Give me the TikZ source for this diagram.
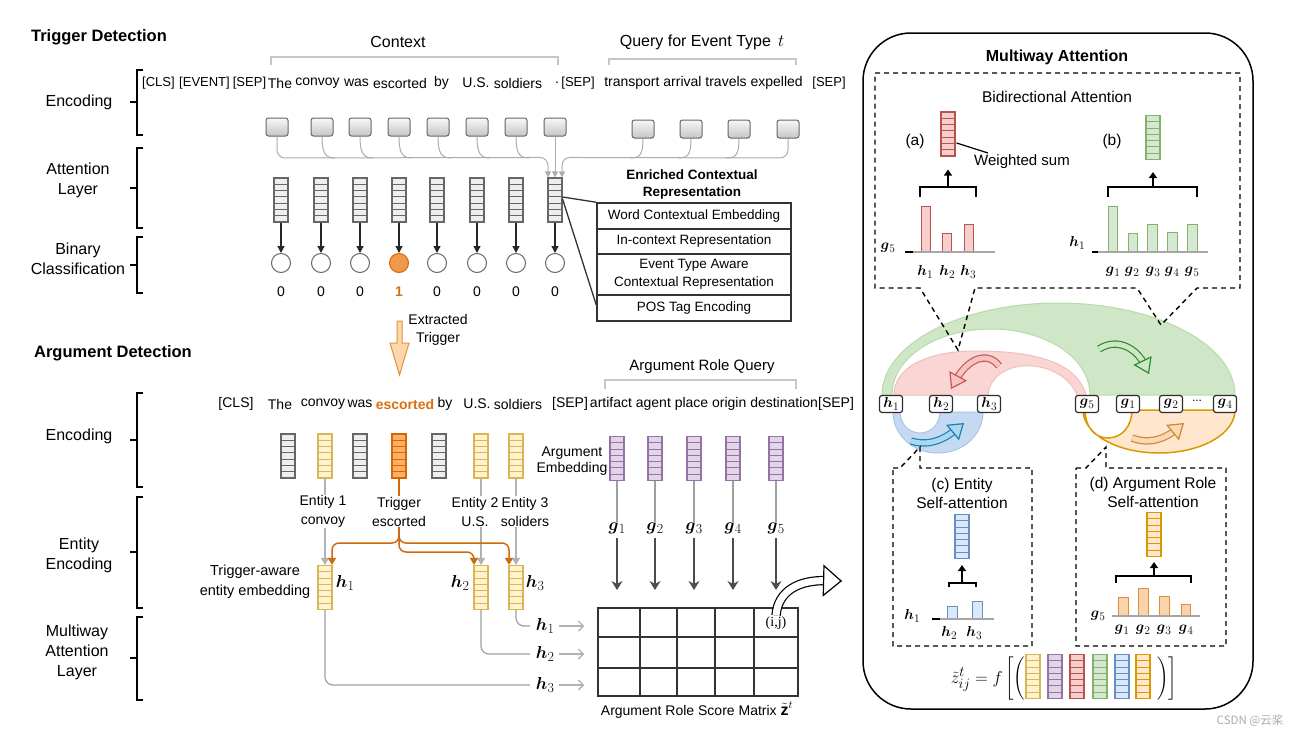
\documentclass[tikz,border=0pt]{standalone}
\usepackage{amsmath}
\usepackage{graphicx}
\usepackage{fontspec}
\setmainfont{Liberation Sans}
\newfontfamily\serifrm{Liberation Serif}
\newfontfamily\cjkfont{Noto Sans CJK SC}
\usetikzlibrary{arrows.meta,calc}
\newcommand{\bvx}[2]{$\boldsymbol{#1}$\kern0.2pt\raisebox{-0.22em}{\scalebox{0.8}{$#2$}}}

\definecolor{cGrayF}{HTML}{EEEEEE}
\definecolor{cGrayD}{HTML}{666666}
\definecolor{cYelF}{HTML}{FFF2CC}
\definecolor{cYelD}{HTML}{D6B656}
\definecolor{cTrgF}{HTML}{FFAE62}
\definecolor{cTrgD}{HTML}{D0680C}
\definecolor{cPurF}{HTML}{E1D5E7}
\definecolor{cPurD}{HTML}{9673A6}
\definecolor{cRedF}{HTML}{F8CECC}
\definecolor{cRedD}{HTML}{B85450}
\definecolor{cGrnF}{HTML}{D5E8D4}
\definecolor{cGrnD}{HTML}{82B366}
\definecolor{cBluF}{HTML}{DAE8FC}
\definecolor{cBluD}{HTML}{6C8EBF}
\definecolor{cOrgF}{HTML}{FFE6CC}
\definecolor{cOrgD}{HTML}{D79B00}
\definecolor{cOrgBarF}{HTML}{FCD3A8}
\definecolor{cOrgBarD}{HTML}{D98E45}
\definecolor{cOrange}{HTML}{D9700F}
\definecolor{cExtF}{HTML}{FDD7AC}
\definecolor{cExtD}{HTML}{E3913A}
\definecolor{rbGrn}{HTML}{CFE7C6}
\definecolor{rbGrnD}{HTML}{B7DBA9}
\definecolor{rbRed}{HTML}{F9D5D3}
\definecolor{rbRedD}{HTML}{F3BFBC}
\definecolor{rbBlu}{HTML}{C6D9F2}
\definecolor{rbBluD}{HTML}{A9C4EB}
\definecolor{arRedD}{HTML}{C55A55}
\definecolor{arRedF}{HTML}{F5C3C0}
\definecolor{arGrnD}{HTML}{2E8B2E}
\definecolor{arGrnF}{HTML}{CDE8C3}
\definecolor{arBluD}{HTML}{1E80AE}
\definecolor{arBluF}{HTML}{A8D9EF}
\definecolor{arOrgD}{HTML}{C9883F}
\definecolor{arOrgF}{HTML}{FBD8B2}

\tikzset{
  emb/.style 2 args={rectangle, draw=#1, fill=#2, line width=1.1pt, minimum width=14pt, minimum height=44pt, inner sep=0pt,
    path picture={\foreach \k in {1,...,6}{\draw[draw=#1, line width=1pt] ($(path picture bounding box.north west)!\k/7!(path picture bounding box.south west)$) -- ($(path picture bounding box.north east)!\k/7!(path picture bounding box.south east)$);}}},
  tok/.style={draw=cGrayD, rounded corners=2.5pt, minimum width=22pt, minimum height=18pt, inner sep=0pt, line width=1pt, top color=gray!6, bottom color=gray!45},
  clsf/.style={circle, draw=cGrayD, fill=white, minimum size=19pt, inner sep=0pt, line width=1pt},
  txt/.style={font=\fontsize{14}{17}\selectfont, inner sep=0.5pt},
  lbl/.style={font=\fontsize{16}{20}\selectfont, align=center, inner sep=0pt},
  ttl/.style={font=\fontsize{16.5}{20}\selectfont\bfseries, inner sep=0pt},
  ml/.style={font=\fontsize{15.5}{17}\selectfont, inner sep=0pt},
  brk/.style={line width=2.2pt, line join=miter},
  gbrk/.style={draw=gray!45, line width=2pt},
  bus/.style={draw=gray!65, line width=1pt},
  smalltip/.style={-{Triangle[length=6pt,width=6pt]}},
  darr/.style={draw=gray!30!black, line width=1.2pt, -{Triangle[length=7pt,width=7pt]}},
  ebox/.style={draw=gray!40!black, line width=1.5pt, minimum width=194pt, inner sep=0pt, align=center, font=\fontsize{13.5}{18.5}\selectfont},
  tline/.style={draw=gray!40!black, line width=1.3pt},
  gline/.style={draw=gray!75, line width=1.2pt},
  garr/.style={draw=gray!60!black, line width=1.3pt, -{Stealth[length=9pt,width=11pt]}},
  gtarr/.style={draw=gray!60, line width=1.2pt, -{Triangle[length=7pt,width=8pt]}},
  rarr/.style={draw=gray!60, line width=1.3pt, -{Straight Barb[length=5pt,width=10pt]}},
  oline/.style={draw=cTrgD, line width=1.5pt},
  otarr/.style={draw=cTrgD, line width=1.5pt, rounded corners=7pt, -{Triangle[length=7pt,width=8pt]}},
  lab/.style={font=\fontsize{14}{19}\selectfont, align=center, fill=white, inner sep=0.5pt},
  dsh/.style={dash pattern=on 5pt off 4pt, line width=1.4pt},
  pbrk/.style={line width=1.5pt},
  pbar/.style 2 args={draw=#1, fill=#2, line width=1pt},
  hbox/.style={draw=gray!35!black, fill=white, rounded corners=2.5pt, line width=1.2pt, minimum width=23pt, minimum height=17pt, inner sep=0pt, font=\fontsize{15}{16}\selectfont},
  fatshaft/.style n args={4}{draw=#1, double=#2, double distance=#3, line width=1.2pt, shorten >=#4},
  fathd/.style n args={4}{draw=#1, line width=1.2pt, -{Triangle[length=#3,width=#4,fill=#2]}}
}

\begin{document}
\begin{tikzpicture}[x=1pt,y=-1pt]
\useasboundingbox (0,0) rectangle (1300,736);
\fill[white] (0,0) rectangle (1300,736);

% ---------------- left labels and brackets
\node[ttl] (ttd) at (99,37) {Trigger Detection};
\node[lbl] (l1) at (79,102) {Encoding};
\node[lbl] (l2) at (78,180.5) {Attention\\Layer};
\node[lbl] (l3) at (78,259) {Binary\\Classification};
\node[ttl] (tad) at (113,353) {Argument Detection};
\node[lbl] (l4) at (79,436) {Encoding};
\node[lbl] (l5) at (79,555) {Entity\\Encoding};
\node[lbl] (l6) at (77,652) {Multiway\\Attention\\Layer};
\foreach \a/\b/\c in {70/135/102,148/228/188,237/293/265,393/487/440,497/608/552,617/700/658}{
  \draw[brk] (143,\a) -- (137,\a) -- (137,\b) -- (143,\b);
  \draw[brk] (130,\c) -- (137,\c);
}

% ---------------- trigger detection
\node[lbl] (ctx) at (398,42) {Context};
\draw[gbrk] (271,65) -- (271,57) -- (558,57) -- (558,65);
\node[lbl] (qry) at (702,42) {Query for Event Type \,$t$};
\draw[gbrk] (609,65) -- (609,59) -- (796,59) -- (796,65);

\node[txt, font=\fontsize{13}{16}\selectfont] (w1) at (158.5,83) {[CLS]};
\node[txt, font=\fontsize{13}{16}\selectfont] (w2) at (204.5,83) {[EVENT]};
\node[txt, font=\fontsize{13}{16}\selectfont] (w3) at (249.5,83) {[SEP]};
\node[txt] (w4) at (280,83) {The};
\node[txt] (w5) at (317.5,83) {convoy};
\node[txt] (w6) at (356.5,83) {was};
\node[txt] (w7) at (400,83) {escorted};
\node[txt] (w8) at (441.5,83) {by};
\node[txt] (w9) at (476,83) {U.S.};
\node[txt] (w10) at (518,83) {soldiers};
\node[txt] (w11) at (557,83) {.};
\node[txt, font=\fontsize{13}{16}\selectfont] (w12) at (578,83) {[SEP]};
\node[txt] (w13) at (703.5,83) {transport arrival travels expelled};
\node[txt, font=\fontsize{13}{16}\selectfont] (w14) at (829,83) {[SEP]};

\foreach \n/\x in {1/277,2/322,3/360,4/399,5/438,6/477,7/516,8/555}
  \node[tok] (b\n) at (\x,127) {};
\foreach \n/\x in {1/643,2/691,3/739,4/788}
  \node[tok] (q\n) at (\x,129) {};
\foreach \n/\x in {1/281,2/321,3/360,4/399,5/437,6/477,7/516,8/555}
  \node[emb={cGrayD}{cGrayF}] (t\n) at (\x,200) {};
\foreach \n/\x in {1/281,2/321,3/360,5/437,6/477,7/516,8/555}
  \node[clsf] (c\n) at (\x,263) {};
\node[clsf, fill=cTrgF!70!cTrgD, draw=cTrgD] (c4) at (399,263) {};

% bus connectors
\draw[bus, rounded corners=8pt, smalltip] (b1.south) -- (277,158) -- ($(t8.north)+(-7,-20)$) -- ($(t8.north)+(-7,0)$);
\foreach \n/\x in {2/322,3/360,4/399,5/438,6/477,7/516}
  \draw[bus] (b\n.south) .. controls +(0,16) and +(-10,0) .. (\x+13,158);
\draw[bus, smalltip] (b8.south) -- (t8.north);
\draw[bus, rounded corners=8pt, smalltip] (q4.south) -- (788,158) -- ($(t8.north)+(7,-20)$) -- ($(t8.north)+(7,0)$);
\foreach \n/\x in {1/643,2/691,3/739}
  \draw[bus] (q\n.south) .. controls +(0,16) and +(10,0) .. (\x-13,158);

\foreach \n in {1,...,8}
  \draw[darr] (t\n.south) -- (c\n.north);
\foreach \n in {1,2,3,5,6,7,8}
  \node[txt] (d\n) at ($(c\n)+(0,29)$) {0};
\node[txt, text=cOrange] (d4) at ($(c4)+(0,29)$) {\bfseries 1};

% enriched representation table
\node[font=\fontsize{13.5}{17}\selectfont\bfseries, align=center, inner sep=0pt] (enr) at (692,184.5) {Enriched Contextual\\Representation};
\node[ebox, minimum height=26pt] (r1) at (694,216) {Word Contextual Embedding};
\node[ebox, minimum height=25pt] (r2) at (694,241.5) {In-context Representation};
\node[ebox, minimum height=41pt] (r3) at (694,274.5) {Event Type Aware\\Contextual Representation};
\node[ebox, minimum height=26pt] (r4) at (694,308) {POS Tag Encoding};
\draw[tline] ($(t8.east)+(0,-3)$) -- (r1.north west);
\draw[tline] ($(t8.east)+(0,-1)$) -- ($(r4.west)+(0,-3)$);

% extracted trigger arrow
\draw[fill=cExtF, draw=cExtD, line width=1pt, line join=miter] (397,321) -- (402,321) -- (402,343) -- (409,343) -- (399.5,375) -- (390,343) -- (397,343) -- cycle;
\node[txt, align=center, font=\fontsize{14}{18}\selectfont] (ext) at (438,330) {Extracted\\Trigger};

% ---------------- argument detection
\node[lbl, font=\fontsize{15}{18}\selectfont] (arq) at (702,367) {Argument Role Query};
\draw[gbrk] (605,389) -- (605,380) -- (796,380) -- (796,389);

\node[txt] (u1) at (236,404) {[CLS]};
\node[txt] (u2) at (280,404) {The};
\node[txt] (u3) at (323,404) {convoy};
\node[txt] (u4) at (360,404) {was};
\node[txt, text=cOrange] (u5) at (405,404) {\bfseries escorted};
\node[txt] (u6) at (445,404) {by};
\node[txt] (u7) at (477,404) {U.S.};
\node[txt] (u8) at (518,404) {soldiers};
\node[txt] (u9) at (570,404) {[SEP]};
\node[txt] (u10) at (704,404) {artifact agent place origin destination};
\node[txt] (u11) at (836,404) {[SEP]};

\node[emb={cGrayD}{cGrayF}] (v1) at (288,456) {};
\node[emb={cYelD}{cYelF}] (e1) at (325,456) {};
\node[emb={cGrayD}{cGrayF}] (v3) at (360,456) {};
\node[emb={cTrgD}{cTrgF}] (tr) at (399,456) {};
\node[emb={cGrayD}{cGrayF}] (v5) at (439,456) {};
\node[emb={cYelD}{cYelF}] (e2) at (481,456) {};
\node[emb={cYelD}{cYelF}] (e3) at (516,456) {};
\foreach \n/\x in {1/617,2/655,3/694,4/733,5/776}
  \node[emb={cPurD}{cPurF}] (a\n) at (\x,458.5) {};
\node[txt, align=center, font=\fontsize{14}{16}\selectfont] (aemb) at (572,461) {Argument\\Embedding};

\node[emb={cYelD}{cYelF}] (h1v) at (325,587.5) {};
\node[emb={cYelD}{cYelF}] (h2v) at (481,587.5) {};
\node[emb={cYelD}{cYelF}] (h3v) at (516,587.5) {};

% entity connectors
\draw[gtarr] (e1.south) -- (h1v.north);
\draw[gtarr] (e2.south) -- (h2v.north);
\draw[gtarr] (e3.south) -- (h3v.north);
\draw[oline] (tr.south) -- (399,530);
\draw[otarr] (399,528) -- (399,543) -- (332,543) -- ($(h1v.north)+(7,0)$);
\draw[otarr] (399,528) -- (399,543) -- (509,543) -- ($(h3v.north)+(-7,0)$);
\draw[otarr] (399,528) -- (399,552) -- (474,552) -- ($(h2v.north)+(-7,0)$);

\node[lab] (ent1) at (323,511.5) {Entity 1\\convoy};
\node[lab] (trl) at (399,511.5) {Trigger\\escorted};
\node[lab] (ent2) at (475,511.5) {Entity 2\\U.S.};
\node[lab] (ent3) at (525,511.5) {Entity 3\\soliders};

\node[ml, font=\fontsize{16}{17}\selectfont] (lh1) at (345,583) {\bvx{h}{1}};
\node[ml, font=\fontsize{16}{17}\selectfont] (lh2) at (460,583) {\bvx{h}{2}};
\node[ml, font=\fontsize{16}{17}\selectfont] (lh3) at (535,583) {\bvx{h}{3}};
\node[txt, align=center, font=\fontsize{14.5}{20}\selectfont] (tae) at (255,582) {Trigger-aware\\entity embedding};

% g labels and arrows
\foreach \n/\x in {1/617,2/655,3/694,4/733,5/776}{
  \node[ml, font=\fontsize{16}{17}\selectfont] (gl\n) at (\x,528) {\bvx{g}{\n}};
  \draw[gline] (a\n.south) -- (gl\n.north);
  \coordinate (ge\n) at (\x,590);
  \draw[garr] ($(gl\n.south)+(0,4)$) -- (ge\n);
}

% score matrix
\draw[line width=1.5pt, draw=black!80] (598,608) rectangle (798,696);
\foreach \x in {640,677,715,754} \draw[line width=1.5pt, draw=black!80] (\x,608) -- (\x,696);
\foreach \y in {637,668} \draw[line width=1.5pt, draw=black!80] (598,\y) -- (798,\y);
\node[font=\serifrm\fontsize{14}{16}\selectfont, inner sep=1pt] (ij) at (776,623) {(i,j)};
\node[txt, font=\fontsize{14}{16}\selectfont] (sml) at (697,710) {Argument Role Score Matrix {\fontsize{16}{17}\selectfont$\tilde{\mathbf{z}}^{t}$}};

\node[ml, font=\fontsize{16}{17}\selectfont] (rh1) at (545,626) {\bvx{h}{1}};
\node[ml, font=\fontsize{16}{17}\selectfont] (rh2) at (545,654) {\bvx{h}{2}};
\node[ml, font=\fontsize{16}{17}\selectfont] (rh3) at (545,685) {\bvx{h}{3}};
\foreach \n in {1,2,3}
  \draw[rarr] ($(rh\n.east)+(5,0)$) -- ($(rh\n.east)+(30,0)$);
\draw[gline, rounded corners=8pt] (h3v.south) |- ($(rh1.west)+(-6,0)$);
\draw[gline, rounded corners=8pt] (h2v.south) |- ($(rh2.west)+(-6,0)$);
\draw[gline, rounded corners=8pt] (h1v.south) |- ($(rh3.west)+(-6,0)$);

% big hollow arrow to the right panel
\draw[fatshaft={black}{white}{7pt}{16pt}] (ij.north) .. controls (778,590) and (800,580) .. (842,581);
\draw[fathd={black}{white}{19pt}{32pt}] ($(842,581)!0.5pt!(800,580)$) -- (842,581);

% ---------------- right panel
\draw[line width=1.5pt, rounded corners=48pt] (863,33) rectangle (1253,709);
\node[ttl, font=\fontsize{16}{20}\selectfont\bfseries] (mwa) at (1057,57) {Multiway Attention};
\node[lbl, font=\fontsize{15.5}{18}\selectfont] (bdt) at (1057,97) {Bidirectional Attention};

% (a)
\node[lbl, font=\fontsize{15.5}{18}\selectfont] (pa) at (915,141) {(a)};
\node[emb={cRedD}{cRedF}] (va) at (948,134) {};
\node[lbl, font=\fontsize{15}{18}\selectfont] (ws) at (1022,162) {Weighted sum};
\draw[line width=1.2pt] ($(va.east)+(1,9)$) -- (988,153);
\draw[pbrk] (920,197) -- (920,187) -- (976,187) -- (976,197);
\draw[pbrk, -{Triangle[length=6pt,width=8pt]}] (948,187) -- ($(va.south)+(0,13)$);
\foreach \a/\b/\t in {921/930/206,942/951/233,964/973/224}
  \draw[pbar={cRedD}{cRedF}] (\a,252) rectangle (\b,\t);
\draw[gray!70, line width=1.2pt] (913,252) -- (995,252);
\draw[line width=1.2pt] (905,252) -- (913,252);
\node[ml] (ag5) at (888,248) {\bvx{g}{5}};
\node[ml] (ah1) at (925,272) {\bvx{h}{1}};
\node[ml] (ah2) at (947,272) {\bvx{h}{2}};
\node[ml] (ah3) at (968,272) {\bvx{h}{3}};

% (b)
\node[lbl, font=\fontsize{15.5}{18}\selectfont] (pb) at (1112,141) {(b)};
\node[emb={cGrnD}{cGrnF}] (vb) at (1153,137.5) {};
\draw[pbrk] (1108,197) -- (1108,187) -- (1197,187) -- (1197,197);
\draw[pbrk, -{Triangle[length=6pt,width=8pt]}] (1153,187) -- ($(vb.south)+(0,12)$);
\foreach \a/\b/\t in {1108/1117/206,1128/1137/233,1147/1157/224,1167/1177/232,1187/1197/224}
  \draw[pbar={cGrnD}{cGrnF}] (\a,252) rectangle (\b,\t);
\draw[gray!70, line width=1.2pt] (1098,252) -- (1208,252);
\draw[line width=1.2pt] (1092,252) -- (1098,252);
\node[ml] (bh1) at (1077,243) {\bvx{h}{1}};
\foreach \n/\x in {1/1113,2/1132,3/1153,4/1172,5/1192}
  \node[ml] (bg\n) at (\x,272) {\bvx{g}{\n}};

% ribbons
\filldraw[fill=rbGrn, draw=rbGrnD, line width=1pt] (882,395) .. controls (882,344) and (961,303) .. (1058,303) .. controls (1155,303) and (1235,344) .. (1235,395) -- (1090,395) .. controls (1090,358) and (1046,329) .. (991,329) .. controls (936,329) and (892,358) .. (892,395) -- cycle;
\filldraw[fill=rbRed, draw=rbRedD, line width=1pt] (894,395) .. controls (894,366) and (930,351) .. (975,351) .. controls (1030,351) and (1076,360) .. (1086,395) -- (1077,395) .. controls (1068,373) and (1042,364) .. (1022,366) .. controls (1002,368) and (989,380) .. (988,395) -- cycle;
\filldraw[fill=rbBlu, draw=rbBluD, line width=1pt] (893,412) .. controls (893,435) and (913,453) .. (938,453) .. controls (963,453) and (983,435) .. (983,412) -- (940,412) .. controls (940,424) and (931,433) .. (920,433) .. controls (909,433) and (900,424) .. (900,412) -- cycle;
\filldraw[fill=cOrgF, draw=cOrgD, line width=1.5pt] (1083,410) .. controls (1083,434) and (1117,453) .. (1159,453) .. controls (1201,453) and (1235,434) .. (1235,410) -- (1132,410) .. controls (1132,426) and (1122,438) .. (1108,438) .. controls (1094,438) and (1085,426) .. (1085,410) -- cycle;

% curved hollow arrows
\draw[fatshaft={arRedD}{arRedF}{5pt}{10pt}] (999,366) .. controls (988,351) and (968,358) .. (951,389);
\draw[fathd={arRedD}{arRedF}{15pt}{20pt}] ($(951,389)!0.5pt!(968,358)$) -- (951,389);
\draw[fatshaft={arGrnD}{arGrnF}{5pt}{10pt}] (1099,349) .. controls (1118,337) and (1137,349) .. (1149,374);
\draw[fathd={arGrnD}{arGrnF}{15pt}{20pt}] ($(1149,374)!0.5pt!(1137,349)$) -- (1149,374);
\draw[fatshaft={arBluD}{arBluF}{5pt}{10pt}] (911,441) .. controls (930,447) and (946,438) .. (964,423);
\draw[fathd={arBluD}{arBluF}{15pt}{20pt}] ($(964,423)!0.5pt!(946,438)$) -- (964,423);
\draw[fatshaft={arOrgD}{arOrgF}{5pt}{10pt}] (1132,438) .. controls (1150,445) and (1166,438) .. (1184,423);
\draw[fathd={arOrgD}{arOrgF}{15pt}{20pt}] ($(1184,423)!0.5pt!(1166,438)$) -- (1184,423);

% node row
\node[hbox] (hb1) at (891,404) {\bvx{h}{1}};
\node[hbox] (hb2) at (941,404) {\bvx{h}{2}};
\node[hbox] (hb3) at (989,404) {\bvx{h}{3}};
\node[hbox] (gb5) at (1087,404) {\bvx{g}{5}};
\node[hbox] (gb1) at (1128,404) {\bvx{g}{1}};
\node[hbox] (gb2) at (1171,404) {\bvx{g}{2}};
\node[txt, font=\fontsize{12}{14}\selectfont] (gdots) at (1197,401) {...};
\node[hbox] (gb4) at (1225,404) {\bvx{g}{4}};

% callouts
\draw[dsh] (875,73) -- (1240,73) -- (1240,288) -- (1197,288) -- (1161,325) -- (1137,288) -- (975,288) -- (958,350) -- (920,288) -- (875,288) -- cycle;
\draw[dsh] (893,468) -- (900,468) -- (920,447) -- (920,468) -- (1032,468) -- (1032,646) -- (893,646) -- cycle;
\draw[dsh] (1076,468) -- (1086,468) -- (1106,447) -- (1106,468) -- (1226,468) -- (1226,646) -- (1076,646) -- cycle;

% (c)
\node[lbl, font=\fontsize{15.5}{19}\selectfont] (ct) at (962,493.5) {(c) Entity\\Self-attention};
\node[emb={cBluD}{cBluF}] (vc) at (962,536.5) {};
\draw[pbrk] (949,587) -- (949,583) -- (976,583) -- (976,587);
\draw[pbrk, -{Triangle[length=6pt,width=8pt]}] (962,583) -- ($(vc.south)+(0,6)$);
\draw[pbar={cBluD}{cBluF}] (947,619) rectangle (957,606);
\draw[pbar={cBluD}{cBluF}] (972,619) rectangle (982,601);
\draw[gray!70, line width=1.2pt] (940,619) -- (994,619);
\draw[line width=1.2pt] (932,619) -- (940,619);
\node[ml] (ch1) at (912,616) {\bvx{h}{1}};
\node[ml] (ch2) at (949,633) {\bvx{h}{2}};
\node[ml] (ch3) at (974,633) {\bvx{h}{3}};

% (d)
\node[lbl, font=\fontsize{15.5}{19}\selectfont] (dt) at (1153,492.5) {(d) Argument Role\\Self-attention};
\node[emb={cOrgD}{cOrgF}] (vd) at (1154,534.5) {};
\draw[pbrk] (1116,583) -- (1116,576) -- (1191,576) -- (1191,583);
\draw[pbrk, -{Triangle[length=6pt,width=8pt]}] (1154,576) -- ($(vd.south)+(0,5)$);
\foreach \a/\b/\t in {1118/1128/597,1138/1148/588,1159/1169/596,1181/1190/604}
  \draw[pbar={cOrgBarD}{cOrgBarF}] (\a,616) rectangle (\b,\t);
\draw[gray!70, line width=1.2pt] (1112,616) -- (1200,616);
\node[ml] (dg5) at (1098,616) {\bvx{g}{5}};
\foreach \n/\x in {1/1122,2/1143,3/1164,4/1186}
  \node[ml] (dg\n) at (\x,630) {\bvx{g}{\n}};

% formula
\node[font=\fontsize{19}{22}\selectfont, inner sep=0pt, anchor=base east] (fz) at (1003,683) {$\tilde{z}^{t}_{ij} = f$};
\node[font=\fontsize{15}{18}\selectfont, inner sep=0pt, anchor=base west] (flb) at (1005,682) {$\Bigg[\Bigg($};
\node[font=\fontsize{15}{18}\selectfont, inner sep=0pt, anchor=base east] (frb) at (1177,682) {$\Bigg)\Bigg]$};
\node[emb={cYelD}{cYelF}] (f1) at (1033,676.5) {};
\node[emb={cPurD}{cPurF}] (f2) at (1055,676.5) {};
\node[emb={cRedD}{cRedF}] (f3) at (1077,676.5) {};
\node[emb={cGrnD}{cGrnF}] (f4) at (1100,676.5) {};
\node[emb={cBluD}{cBluF}] (f5) at (1122,676.5) {};
\node[emb={cOrgD}{cOrgF}] (f6) at (1143,676.5) {};

% watermark
\node[font=\cjkfont\fontsize{11.5}{13}\selectfont, text=gray!65, inner sep=0pt] (wm) at (1250,721) {CSDN @云桨};
\end{tikzpicture}
\end{document}
